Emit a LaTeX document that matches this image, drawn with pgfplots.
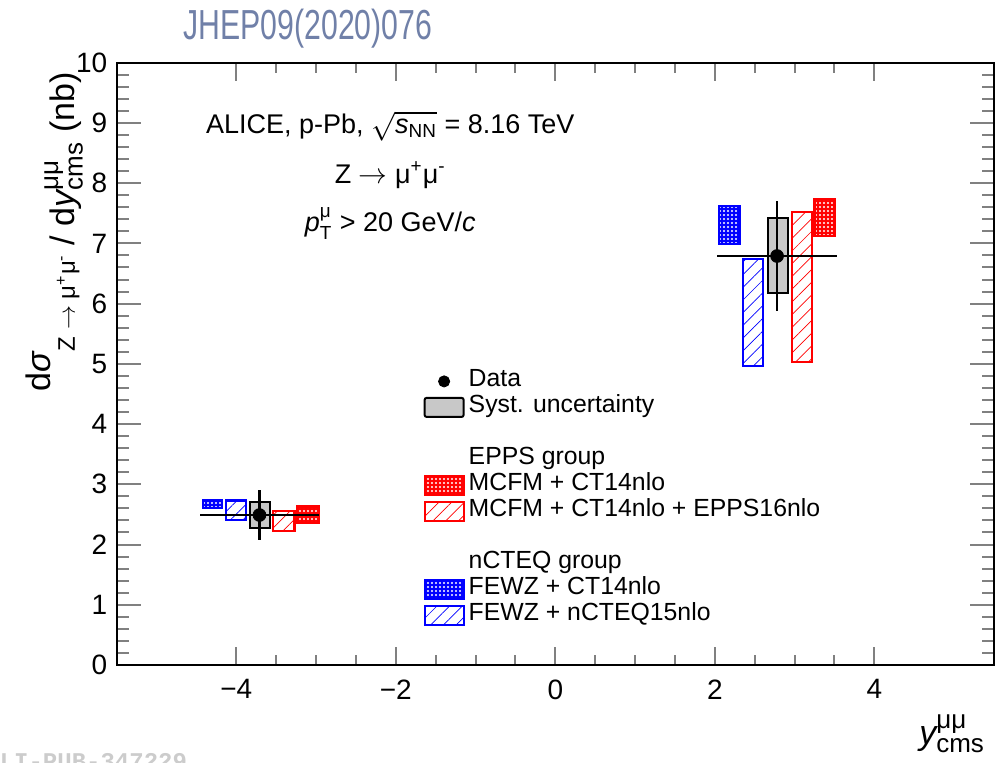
\documentclass[border=0pt]{standalone}
\usepackage{fontspec}
\setmainfont{Liberation Sans}
\setmonofont{Liberation Mono}
\usepackage{amsmath}
\usepackage{pgfplots}
\pgfplotsset{compat=1.18}
\usetikzlibrary{patterns,patterns.meta}
\definecolor{jhep}{RGB}{112,128,168}
\definecolor{systgrey}{RGB}{200,200,200}
\tikzset{
  densered/.style={draw=red, line width=1.1pt, fill=red, postaction={pattern={Dots[distance=2pt,radius=0.55pt]}, pattern color=white}},
  denseblue/.style={draw=blue, line width=1.1pt, fill=blue, postaction={pattern={Dots[distance=2pt,radius=0.55pt]}, pattern color=white}},
  hatchred/.style={draw=red, line width=1.1pt, pattern={Lines[angle=45,distance=4.5pt,line width=0.35pt]}, pattern color=red},
  hatchblue/.style={draw=blue, line width=1.1pt, pattern={Lines[angle=45,distance=4.5pt,line width=0.35pt]}, pattern color=blue},
  systbox/.style={draw=black, line width=1pt, fill=systgrey},
}
\newcommand{\scr}[1]{\text{\fontsize{13}{13}\selectfont #1}}
\begin{document}
\begin{tikzpicture}
\useasboundingbox (-58.35pt,-49pt) rectangle (439.65pt,332.5pt);
\begin{axis}[
  at={(0,0)}, anchor=south west,
  scale only axis, width=438.65pt, height=301.15pt,
  xmin=-5.5, xmax=5.5, ymin=0, ymax=10,
  clip=false,
  axis line style={line width=1pt},
  tick align=inside, tick pos=both,
  xtick={-4,-2,0,2,4}, xticklabels={−4,−2,0,2,4},
  ytick={0,1,2,3,4,5,6,7,8,9,10},
  minor x tick num=3, minor y tick num=4,
  xtick style={line width=1pt, /pgfplots/major tick length=9pt, /pgfplots/minor tick length=5pt},
  ytick style={line width=1pt, /pgfplots/major tick length=12pt, /pgfplots/minor tick length=6pt},
  /pgf/number format/assume math mode=true,
  tick label style={font=\fontsize{14}{16}\selectfont},
  xticklabel style={yshift=-3.7pt},
  yticklabel style={xshift=-1.2pt},
  xlabel={$\textit{y}^{\scr{μμ}}_{\scr{cms}}$},
  xlabel style={at={(rel axis cs:1,0)}, anchor=base east, yshift=-40pt, xshift=-1pt, font=\fontsize{17}{20}\selectfont},
  ylabel={\raisebox{12pt}{d\textit{σ}}{\fontsize{12}{12}\selectfont Z $\rightarrow$ μ\textsuperscript{+}μ\textsuperscript{-}} / d$\textit{y}^{\scr{μμ}}_{\scr{cms}}$ (nb)},
  ylabel style={at={([xshift=-20.9pt,yshift=-1.1pt]rel axis cs:0,1)}, anchor=base east, font=\fontsize{17}{19}\selectfont},
  legend style={at={(axis cs:-1.658,4.931)}, anchor=north west, draw=none, fill=none, inner sep=0pt,
    column sep=2pt, row sep=0pt, font=\fontsize{12.4}{13}\selectfont,
    nodes={inner sep=0pt, text height=9pt, text depth=4pt}},
  legend cell align=left,
]
% EPPS group: MCFM + CT14nlo (dense red)
\addplot[densered, forget plot] coordinates {(-3.24,2.36) (-2.97,2.36) (-2.97,2.63) (-3.24,2.63)} -- cycle;
\addplot[densered, forget plot] coordinates {(3.25,7.12) (3.50,7.12) (3.50,7.74) (3.25,7.74)} -- cycle;
% MCFM + CT14nlo + EPPS16nlo (hatched red)
\addplot[hatchred, forget plot] coordinates {(-3.54,2.23) (-3.27,2.23) (-3.27,2.56) (-3.54,2.56)} -- cycle;
\addplot[hatchred, forget plot] coordinates {(2.97,5.03) (3.22,5.03) (3.22,7.52) (2.97,7.52)} -- cycle;
% nCTEQ group: FEWZ + CT14nlo (dense blue)
\addplot[denseblue, forget plot] coordinates {(-4.42,2.60) (-4.18,2.60) (-4.18,2.73) (-4.42,2.73)} -- cycle;
\addplot[denseblue, forget plot] coordinates {(2.05,6.99) (2.31,6.99) (2.31,7.62) (2.05,7.62)} -- cycle;
% FEWZ + nCTEQ15nlo (hatched blue)
\addplot[hatchblue, forget plot] coordinates {(-4.13,2.41) (-3.88,2.41) (-3.88,2.73) (-4.13,2.73)} -- cycle;
\addplot[hatchblue, forget plot] coordinates {(2.35,4.96) (2.60,4.96) (2.60,6.74) (2.35,6.74)} -- cycle;
% systematic uncertainty boxes
\addplot[systbox, forget plot] coordinates {(-3.83,2.27) (-3.58,2.27) (-3.58,2.71) (-3.83,2.71)} -- cycle;
\addplot[systbox, forget plot] coordinates {(2.67,6.18) (2.92,6.18) (2.92,7.42) (2.67,7.42)} -- cycle;
% data with stat. uncertainty and bin width
\addplot[black, only marks, mark=*, mark size=3.2pt, forget plot,
  error bars/.cd, x dir=both, x explicit, y dir=both, y explicit, error mark=none,
  error bar style={line width=1.4pt, black}]
  coordinates {(-3.71,2.49) +- (0.75,0.41) (2.78,6.79) +- (0.75,0.92)};
% annotations
\node[anchor=base, font=\fontsize{13.5}{15}\selectfont] at (axis cs:-2.07,8.83) {ALICE, p-Pb, $\sqrt{\textit{s}_{\text{NN}}}$ = 8.16 TeV};
\node[anchor=base, font=\fontsize{13.5}{15}\selectfont] at (axis cs:-2.07,8.00) {Z $\rightarrow$ μ\textsuperscript{+}μ\textsuperscript{-}};
\node[anchor=base, font=\fontsize{13.5}{15}\selectfont] at (axis cs:-2.07,7.20) {$\textit{p}^{\text{μ}}_{\text{T}}$ > 20 GeV/\textit{c}};
% legend
\addlegendimage{legend image code/.code={\fill[black] (9.75pt,0pt) circle (2.8pt);}}
\addlegendentry{Data}
\addlegendimage{legend image code/.code={\draw[systbox, rounded corners=1pt] (0pt,-4.75pt) rectangle (19.5pt,4.75pt);}}
\addlegendentry{Syst. uncertainty}
\addlegendimage{empty legend}\addlegendentry{}
\addlegendimage{empty legend}\addlegendentry{EPPS group}
\addlegendimage{legend image code/.code={\draw[densered] (0pt,-4.75pt) rectangle (19.5pt,4.75pt);}}
\addlegendentry{MCFM + CT14nlo}
\addlegendimage{legend image code/.code={\draw[hatchred] (0pt,-4.75pt) rectangle (19.5pt,4.75pt);}}
\addlegendentry{MCFM + CT14nlo + EPPS16nlo}
\addlegendimage{empty legend}\addlegendentry{}
\addlegendimage{empty legend}\addlegendentry{nCTEQ group}
\addlegendimage{legend image code/.code={\draw[denseblue] (0pt,-4.75pt) rectangle (19.5pt,4.75pt);}}
\addlegendentry{FEWZ + CT14nlo}
\addlegendimage{legend image code/.code={\draw[hatchblue] (0pt,-4.75pt) rectangle (19.5pt,4.75pt);}}
\addlegendentry{FEWZ + nCTEQ15nlo}
\end{axis}
\node[anchor=base west, text=jhep, inner sep=0pt, font=\fontsize{21}{21}\selectfont] at (33.15pt,312.5pt) {\scalebox{0.72}[1]{JHEP09(2020)076}};
\node[anchor=base west, text=gray!40, inner sep=0pt, font=\fontsize{12}{12}\selectfont\ttfamily\bfseries] at (-65.85pt,-52.5pt) {ALI-PUB-347229};
\end{tikzpicture}
\end{document}
